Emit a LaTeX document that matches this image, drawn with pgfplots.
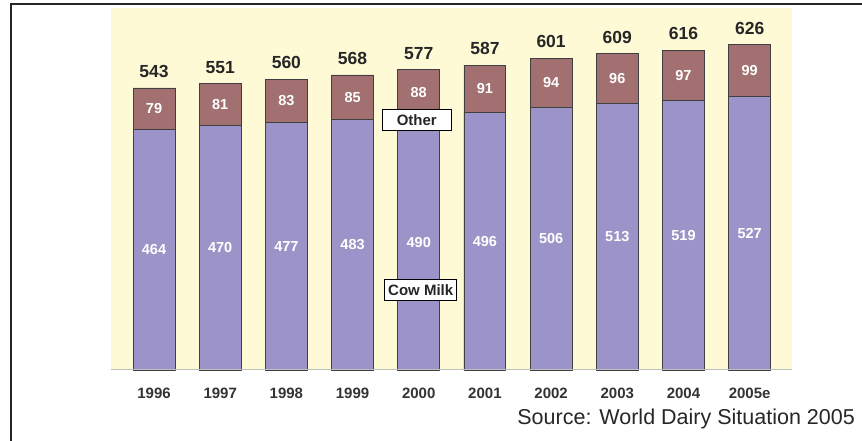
\documentclass[border=0pt]{standalone}
\usepackage{pgfplots}
\pgfplotsset{compat=1.18}
\usepackage{pgfplotstable}
\usepackage{fontspec}
\setmainfont{Liberation Sans}

\definecolor{bgyel}{HTML}{FFFAD6}
\definecolor{cowc}{HTML}{9C94C8}
\definecolor{othc}{HTML}{A27070}
\definecolor{edgec}{HTML}{404040}

% world milk production, million t
\pgfplotstableread{
idx cow other total
0 464 79 543
1 470 81 551
2 477 83 560
3 483 85 568
4 490 88 577
5 496 91 587
6 506 94 601
7 513 96 609
8 519 97 616
9 527 99 626
}\milk

\begin{document}
\begin{tikzpicture}[x=1bp,y=1bp]
  \useasboundingbox (0,0) rectangle (862,441);
  \draw[line width=1.5bp, color=black!85] (11,0) -- (11,437) -- (862,437);

  \begin{axis}[
    at={(111bp,71bp)}, anchor=south west,
    scale only axis, width=681bp, height=362bp,
    xmin=-0.65, xmax=9.64, ymin=0, ymax=697,
    /pgf/number format/assume math mode=true,
    axis background/.style={fill=bgyel},
    axis line style={draw=none},
    tick style={draw=none},
    ytick=\empty,
    xtick={0,...,9},
    xticklabels={1996,1997,1998,1999,2000,2001,2002,2003,2004,2005e},
    xticklabel style={anchor=center, yshift=-23bp, text=black!80,
      font=\fontsize{15bp}{17bp}\selectfont\bfseries},
    clip=false,
  ]

    % brown bar to the total, purple cow milk part over it
    \addplot[ybar, bar shift=0pt, bar width=0.634, fill=othc, draw=edgec, line width=0.9bp]
      table[x=idx, y expr=\thisrow{cow}+\thisrow{other}]{\milk};
    \addplot[ybar, bar shift=0pt, bar width=0.634, fill=cowc, draw=edgec, line width=0.9bp]
      table[x=idx, y=cow]{\milk};

    \draw[black!25, line width=1bp] (axis cs:-0.65,0) -- (axis cs:9.64,0);

    % value labels
    \addplot[draw=none, mark=none, nodes near coords, point meta=explicit,
      nodes near coords style={anchor=center, text=white,
        font=\fontsize{14.5bp}{16bp}\selectfont\bfseries}]
      table[x=idx, y expr=\thisrow{cow}/2, meta=cow]{\milk};
    \addplot[draw=none, mark=none, nodes near coords, point meta=explicit,
      nodes near coords style={anchor=center, text=white,
        font=\fontsize{14.5bp}{16bp}\selectfont\bfseries}]
      table[x=idx, y expr=\thisrow{cow}+\thisrow{other}/2, meta=other]{\milk};
    \addplot[draw=none, mark=none, nodes near coords, point meta=explicit,
      nodes near coords style={anchor=south, inner sep=0pt, yshift=10bp, text=black!85,
        font=\fontsize{17.5bp}{19bp}\selectfont\bfseries}]
      table[x=idx, y expr=\thisrow{cow}+\thisrow{other}, meta=total]{\milk};

    \node[draw=black, fill=white, line width=0.8bp, inner sep=0pt,
      minimum width=69bp, minimum height=21bp, text=black!85,
      font=\fontsize{15bp}{17bp}\selectfont\bfseries] at (axis cs:3.97,482) {Other};
    \node[draw=black, fill=white, line width=0.8bp, inner sep=0pt,
      minimum width=72bp, minimum height=21bp, text=black!85,
      font=\fontsize{15bp}{17bp}\selectfont\bfseries] at (axis cs:4.03,154) {Cow Milk};
  \end{axis}

  \node[anchor=east, inner sep=0pt, text=black!85,
    font=\fontsize{21.5bp}{23bp}\selectfont] at (855,22) {Source: World Dairy Situation 2005};
\end{tikzpicture}
\end{document}
